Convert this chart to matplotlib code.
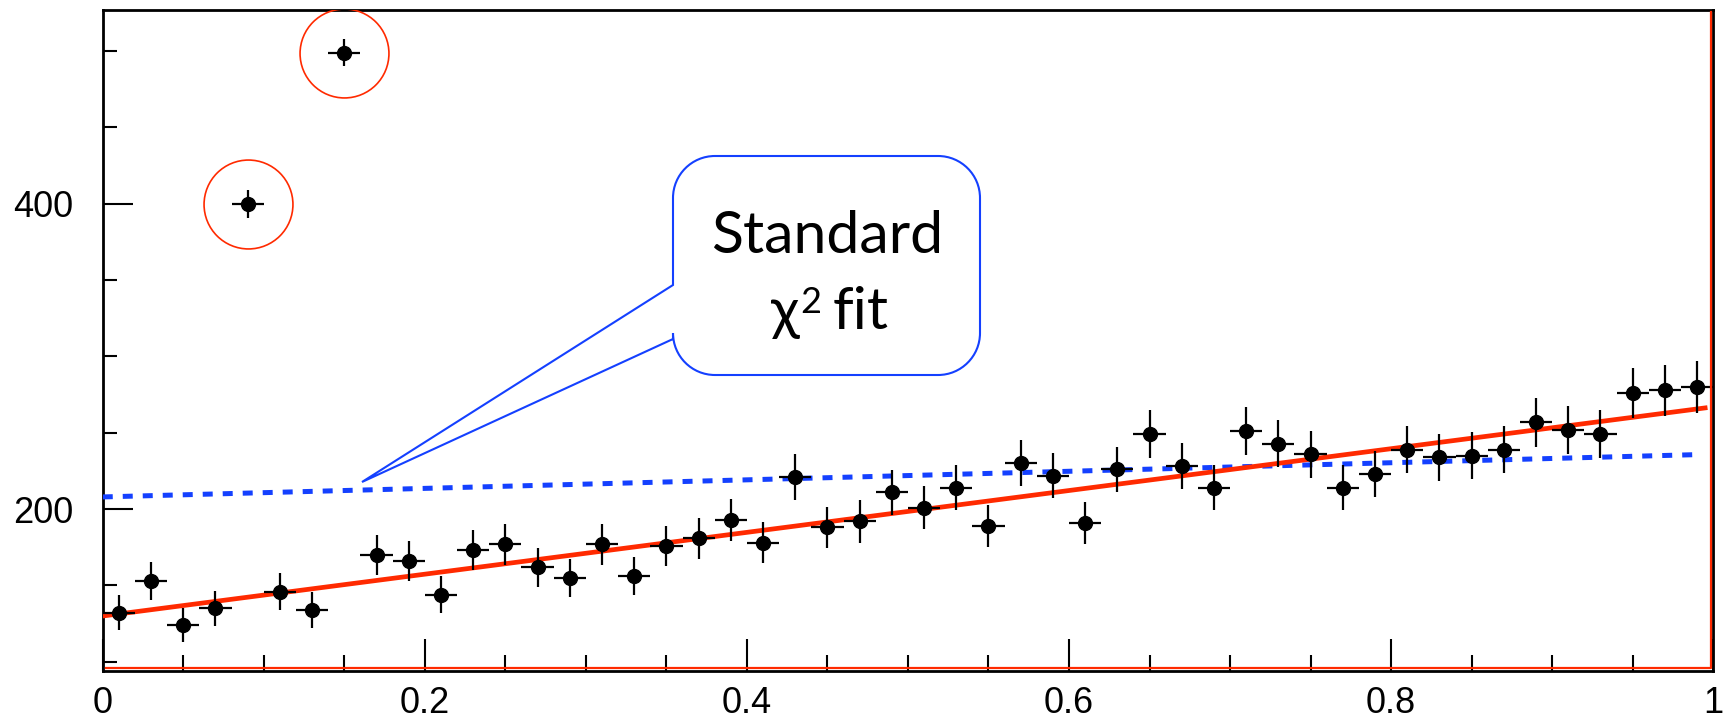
import numpy as np
import matplotlib.pyplot as plt
from matplotlib.path import Path
from matplotlib.patches import PathPatch
from matplotlib.ticker import MultipleLocator
from matplotlib.transforms import Affine2D

plt.rcParams['font.family'] = ['Liberation Sans', 'DejaVu Sans']

RED = '#ff2a00'
BLUE = '#1440ff'

# histogram: 50 bins on [0,1], two outlier bins
bin_edges = np.linspace(0, 1, 51)
counts = np.array([132, 153, 124, 135, 400, 146, 134, 499, 170, 166,
                   144, 173, 177, 162, 155, 177, 156, 176, 181, 193,
                   178, 221, 188, 192, 211, 201, 214, 189, 230, 222,
                   191, 226, 249, 228, 214, 251, 243, 236, 214, 223,
                   239, 234, 235, 239, 257, 252, 249, 276, 278, 280])
outliers = [4, 7]
outlier_err = 9

# fitted straight lines  y = a + b*x
robust_a, robust_b = 130, 137
chi2_a, chi2_b = 208, 28

x = 0.5 * (bin_edges[:-1] + bin_edges[1:])
xerr = 0.5 * np.diff(bin_edges)
yerr = np.sqrt(counts).astype(float)
yerr[outliers] = outlier_err

fig = plt.figure(figsize=(17.27, 7.21), dpi=100)
ax = fig.add_axes([0.0595, 0.0694, 0.9325, 0.9168])

ax.errorbar(x, counts, xerr=xerr, yerr=yerr, fmt='o', color='k', ms=10,
            elinewidth=1.6, capsize=0, zorder=5)

xr = np.linspace(0, 0.995, 200)
ax.plot(xr, robust_a + robust_b * xr, color=RED, lw=3.4, zorder=4)
xc = np.linspace(0, 0.99, 200)
ax.plot(xc, chi2_a + chi2_b * xc, color=BLUE, lw=3.6, ls=(0, (2, 2)), zorder=3)

# rings round the outliers
ax.plot(x[outliers], counts[outliers], 'o', ms=64, mfc='none', mec=RED,
        mew=1.2, zorder=6)

# red frame lines along bottom and right
ax.plot([0.002, 0.9985, 0.9985], [0.004, 0.004, 0.997], transform=ax.transAxes,
        color=RED, lw=1.6, zorder=7, clip_on=False)

ax.set_xlim(0, 1)
ax.set_ylim(94, 527)
ax.set_xticks([0, 0.2, 0.4, 0.6, 0.8, 1])
ax.set_xticklabels(['0', '0.2', '0.4', '0.6', '0.8', '1'])
ax.xaxis.set_minor_locator(MultipleLocator(0.05))
ax.set_yticks([200, 400])
ax.yaxis.set_minor_locator(MultipleLocator(50))
ax.tick_params(which='both', direction='in', top=False, right=False, width=1.5)
ax.tick_params(axis='x', which='major', length=23, labelsize=26, pad=11)
ax.tick_params(axis='x', which='minor', length=11.5)
ax.tick_params(axis='y', which='major', length=21.6, labelsize=26, pad=21)
ax.tick_params(axis='y', which='minor', length=10)
for s in ax.spines.values():
    s.set_linewidth(2)

# callout box, built in pixel units (origin top-left)
px = Affine2D().scale(1 / 100.0) + fig.dpi_scale_trans
H = 721
L, T, R, B, r = 673, 156, 980, 375, 42
tip = (362, 482)
j_top, j_bot = 285, 339
k = 0.5523 * r

verts = [(L + r, T), (R - r, T),
         (R - r + k, T), (R, T + r - k), (R, T + r),
         (R, B - r),
         (R, B - r + k), (R - r + k, B), (R - r, B),
         (L + r, B),
         (L + r - k, B), (L, B - r + k), (L, B - r),
         (L, j_bot), tip, (L, j_top), (L, T + r),
         (L, T + r - k), (L + r - k, T), (L + r, T),
         (L + r, T)]
codes = [Path.MOVETO, Path.LINETO,
         Path.CURVE4, Path.CURVE4, Path.CURVE4,
         Path.LINETO,
         Path.CURVE4, Path.CURVE4, Path.CURVE4,
         Path.LINETO,
         Path.CURVE4, Path.CURVE4, Path.CURVE4,
         Path.LINETO, Path.LINETO, Path.LINETO, Path.LINETO,
         Path.CURVE4, Path.CURVE4, Path.CURVE4,
         Path.CLOSEPOLY]
verts = [(vx, H - vy) for vx, vy in verts]
fig.add_artist(PathPatch(Path(verts, codes), transform=px, facecolor='white',
                         edgecolor=BLUE, lw=1.5, zorder=10))

box_font = ['Lato', 'Noto Sans', 'DejaVu Sans']
fig.text(827, H - 253, 'Standard', transform=px, ha='center', va='baseline',
         fontsize=42.5, family=box_font, zorder=11)
# chi, raised 2, then "fit"
fig.text(771, H - 329, 'χ', transform=px, ha='left', va='baseline',
         fontsize=42.5, family=box_font, zorder=11)
fig.text(800, H - 313, '2', transform=px, ha='left', va='baseline',
         fontsize=26, family=box_font, zorder=11)
fig.text(833, H - 329, 'fit', transform=px, ha='left', va='baseline',
         fontsize=42.5, family=box_font, zorder=11)

fig.savefig('out.png', dpi=100)
